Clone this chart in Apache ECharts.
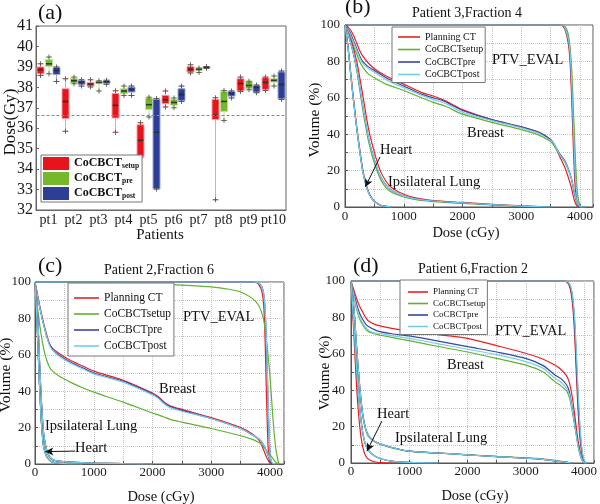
<!DOCTYPE html>
<html><head><meta charset="utf-8">
<script src="https://cdn.jsdelivr.net/npm/echarts@6/dist/echarts.min.js"></script>
<style>html,body{margin:0;padding:0;background:#fff}#c{width:600px;height:504px}</style>
</head><body><div id="c"></div>
<script>
// ---------- Panel (a): box plots (Gy) [min, Q1, median, Q3, max]
const patients = ['pt1','pt2','pt3','pt4','pt5','pt6','pt7','pt8','pt9','pt10'];
const boxSetup = [[38.58,38.66,38.86,39.0,39.15],[35.85,36.47,37.31,37.93,38.42],[38.02,38.06,38.16,38.24,38.37],[35.8,36.5,37.12,37.7,37.83],[34.56,34.6,35.41,36.17,36.27],[37.04,37.2,37.39,37.61,37.82],[38.7,38.75,38.88,39.02,39.1],[32.5,36.42,36.64,37.41,37.49],[37.8,37.82,38.18,38.42,38.5],[37.85,37.9,38.24,38.47,38.5]];
const boxPre = [[38.66,39.02,39.15,39.35,39.48],[38.18,38.21,38.32,38.45,38.5],[37.82,38.18,38.24,38.3,38.32],[37.6,37.69,37.82,37.93,38.06],[36.55,36.91,37.15,37.48,37.52],[37.0,37.12,37.26,37.41,37.48],[38.73,38.83,38.88,38.92,38.95],[36.38,36.82,37.31,37.8,37.85],[37.88,37.93,38.09,38.29,38.3],[38.06,38.26,38.34,38.42,38.55]];
const boxPost = [[38.29,38.63,38.83,38.97,39.0],[38.06,38.14,38.26,38.34,38.37],[38.15,38.2,38.27,38.32,38.35],[37.6,37.77,37.9,38.01,38.06],[33.03,33.03,35.81,37.41,37.45],[37.31,37.36,37.65,37.93,38.06],[38.93,38.94,38.97,39.0,39.02],[37.48,37.57,37.7,37.8,37.82],[37.74,37.77,38.01,38.09,38.12],[37.41,37.44,38.14,38.75,38.8]];
const refDoseGy = 36.65;

// ---------- Panel (b): Patient 3, Fraction 4  (dose cGy, volume %)
const b_ptv_dose = [0,3650,3700,3750,3800,3830,3860,3890,3920,3950,3980,4010,4050,4100];
const b_ptv_plan = [100,100,99.5,97,90,80,58,30,10,3,0.5,0,0,0];
const b_ptv_setup = [100,100,100,99,95,88,75,52,28,10,3,0.5,0,0];
const b_ptv_pre = [100,100,99.8,98,92,84,65,38,15,5,1,0,0,0];
const b_ptv_post = [100,100,99.8,98,92.5,85,67,41,17,6,1.2,0,0,0];
const b_breast_dose = [0,50,100,150,200,250,300,400,500,700,1000,1300,1500,1700,2000,2500,3000,3300,3500,3550,3650,3750,3850,3900,3950,4000,4050];
const b_breast_plan = [100,99,97,94,90,86,83,79,76,72,67.5,63,61,58.5,53.5,48,44,41,37,35,28,21,11,4,0.5,0,0];
const b_breast_setup = [100,97,93,88,84,80,77,73,71,67.5,64,60,57.5,55.5,51,46.5,42.5,39.5,36,34,29,24,16,9,3,0.5,0];
const b_breast_pre = [100,98,95,91,87,83,80,77,75,71,66.5,62,60,58,53,48,44,41,37,35,29.5,25,16,8,2,0,0];
const b_breast_post = [100,97.5,94,90,86,82,79,76,74,70,65.5,61.5,59,57,52,47.5,43.5,40.5,36.5,35,29,24.5,16,9,2.5,0.3,0];
const b_heart_dose = [0,50,100,150,200,250,300,350,400,450,500,600,700,800];
const b_heart_plan = [100,89,73,58,44,32,21,13.5,8.5,5.2,3.2,1.1,0.3,0];
const b_heart = [100,88,72,57,43,31,20,13,8,5,3,1,0.3,0];
const b_lung_dose = [0,100,200,300,400,500,600,700,800,1000,1200,1500,2000,2500,3000,3500];
const b_lung_plan = [100,92,80,62,43,30,20,14,10.5,7,5,3.5,2.5,1.5,0.6,0];
const b_lung_setup = [100,90,75,54,36,24,15.5,10.5,8,5.5,4,3,2,1.2,0.4,0];
const b_lung_pre = [100,90,76,56,38,26,17,12,9,6,4.5,3.3,2.3,1.3,0.5,0];
const b_lung_post = [100,90,76,56,38,26,17,12,9,6,4.5,3.3,2.3,1.3,0.5,0];

// ---------- Panel (c): Patient 2, Fraction 6
const c_ptv_dose = [0,3700,3780,3820,3860,3890,3910,3930,3950,3970,3990,4010,4030,4050];
const c_ptv_plan = [100,100,99.5,98,95,88,75,50,25,8,2,0,0,0];
const c_ptv_pre = [100,100,99.8,99,97.5,94,88,75,55,30,12,3,0.5,0];
const c_ptv_post = [100,100,99.8,99,97.5,94,88,76,57,32,13,3,0.5,0];
const c_ptv_setup_dose = [0,1000,1500,2000,2500,3000,3300,3500,3700,3800,3850,3900,3950,4000,4050,4100,4150];
const c_ptv_setup = [100,99.8,99.5,99,98.3,97.3,96,94.5,91,87.5,84,78,65,48,25,8,0];
const c_breast_dose = [0,50,100,150,200,250,300,400,600,800,1000,1500,2000,2100,2200,2300,2500,3000,3500,3700,3800,3850,3900,3950,4000,4050,4100,4150];
const c_breast_plan = [100,92,84,77,71,66,63.5,61,57,54,51,46,39,37,34,32,30,25.5,20,16.5,13.5,11,7,3,0.5,0,0,0];
const c_breast_setup = [100,84,72,63,57,53,51,48.5,45,42,39.5,34,28,27,25.8,24.5,23,19.5,15.5,13.5,12,11,9,7,5,3,1,0];
const c_breast_pre = [100,91,83,76,70,65.5,63,60,56,53,50,45.5,38.5,36.5,33.5,31.5,29.5,25,19.5,16,14,12.5,10,6,2,0,0,0];
const c_breast_post = [100,91,83,76,70,65,62.5,59.5,55.5,52.5,49.5,45,38,36,33,31,29,25,19.5,16,14,12.5,10,6,2.5,0.3,0,0];
const c_heart_dose = [0,25,50,75,100,125,150,200,250,300,400,600,800];
const c_heart = [100,85,65,45,28,16,9,4,2,1,0.5,0.1,0];
const c_lung_dose = [0,25,50,75,100,125,150,200,250,300,400,600,1000,1500,2000];
const c_lung = [100,92,78,58,40,26,16,7.5,4,2.5,1.6,1,0.5,0.2,0];
const c_lung_setup = [100,90,74,54,36,23,14,6.5,3.5,2.2,1.5,1,0.5,0.2,0];

// ---------- Panel (d): Patient 6, Fraction 2
const d_ptv_dose = [0,3650,3700,3740,3780,3810,3840,3870,3900,3930,3960,3990,4020,4050];
const d_ptv_plan = [100,100,99.5,98,93,85,70,48,28,14,6,1.5,0,0];
const d_ptv_setup = [100,100,99.8,99,96,90,78,58,36,19,8,2.5,0.3,0];
const d_ptv_pre = [100,100,99.8,98.5,95,88,75,54,33,17,7,2,0.2,0];
const d_ptv_post = [100,100,99.8,99,96,90,79,60,38,21,9,3,0.5,0];
const d_breast_dose = [0,50,100,150,200,250,300,400,500,700,1000,1500,2000,2500,3000,3300,3500,3600,3700,3750,3800,3850,3900,3950,4000,4050];
const d_breast_plan = [100,95,90,86,83,80,78,76.3,75.3,74,72.5,70.5,68.5,64.5,60.3,57,53.8,51.5,48,44,36,24,12,4,0.5,0];
const d_breast_setup = [100,91,84,79,76,73.5,72.2,71,70.3,69,67.2,64,61,57.5,53.8,50,44.7,42.5,39.5,36,28,19,9,3,0.3,0];
const d_breast_pre = [100,93,87,82,79,76.5,75,73.3,72.2,71,69.8,67,63.9,61,57.5,53.5,48.4,46.5,43,39,30,20,10,3,0.3,0];
const d_breast_post = [100,92,85,80,77,74.5,73,71.5,71.2,70,68.5,65.5,62.5,59.5,55.7,52,46.5,44.5,41,37.5,29,19,9,3,0.3,0];
const d_heart_dose = [0,50,100,150,200,250,300,400,500,700,1000,1500];
const d_heart_plan = [100,70,40,20,9,4,2,0.7,0.2,0,0,0];
const d_heart = [100,75,50,30,17,10,7,4,2.5,1,0.3,0];
const d_lung_dose = [0,50,100,150,200,250,300,400,500,700,1000,1500,2000,2500,3000,3300,3500,3700,3800];
const d_lung = [100,85,62,42,27,19,15,12,10.5,8.5,6.5,5.5,4.5,3.5,2.6,2,1.2,0.3,0];
const d_lung_setup = [100,84,60,40,26,18.5,14.5,11.8,10.3,8.3,6.4,5.4,4.5,3.6,2.8,2.2,1.5,0.5,0];

const legendNames = ['Planning CT','CoCBCTsetup','CoCBCTpre','CoCBCTpost'];

// ---------- styling
const FONT = 'Liberation Serif';
const LCOL = ['#ee1d23','#5fb22e','#3a44a0','#74cdea'];
const BOX = {setup:['#e8131b','#f4a0a4'], pre:['#76b82b','#bfe09a'], post:['#2d3e97','#9aa3d3']};

const chart = echarts.init(document.getElementById('c'), null, {renderer:'canvas'});

const aTop = 26, aH = 184, aL = 36, aW = 250;
const grids = [
  {left:aL, top:aTop, width:aW, height:aH, show:true, borderColor:'#666', borderWidth:1},
  {left:aL-8, top:aTop, width:aW, height:aH},
  {left:aL+0.5, top:aTop, width:aW, height:aH},
  {left:aL+8, top:aTop, width:aW, height:aH},
  {left:345, top:25, width:248, height:182, show:true, borderColor:'#555', borderWidth:1},
  {left:35, top:282, width:249, height:182, show:true, borderColor:'#555', borderWidth:1},
  {left:351, top:281, width:244, height:182, show:true, borderColor:'#555', borderWidth:1}
];
// serif tick labels through rich text
const rich = size => ({t:{fontFamily:FONT, fontSize:size, color:'#1a1a1a'}});
const axLab = (size, margin, fmt) => ({fontFamily:FONT, fontSize:size, color:'#1a1a1a', margin:margin,
  formatter:v => { const s = fmt ? fmt(v) : String(v); return s === '' ? '' : '{t|' + s + '}'; }, rich:rich(size)});
const xAxes = [
  {gridIndex:0, type:'category', data:patients, axisLine:{lineStyle:{color:'#666'}}, axisTick:{inside:true, length:3, lineStyle:{color:'#666'}},
    axisLabel:Object.assign(axLab(14,3), {interval:0})},
  {gridIndex:1, type:'category', data:patients, show:false},
  {gridIndex:2, type:'category', data:patients, show:false},
  {gridIndex:3, type:'category', data:patients, show:false}
];
const yAxes = [
  {gridIndex:0, type:'value', min:32, max:41, interval:1, axisLine:{show:true, lineStyle:{color:'#666'}}, axisTick:{show:true, inside:true, length:3, lineStyle:{color:'#666'}}, splitLine:{show:false}, axisLabel:axLab(16,3)},
  {gridIndex:1, type:'value', min:32, max:41, show:false, splitLine:{show:false}},
  {gridIndex:2, type:'value', min:32, max:41, show:false, splitLine:{show:false}},
  {gridIndex:3, type:'value', min:32, max:41, show:false, splitLine:{show:false}}
];
const split = {show:true, lineStyle:{color:'#c4c4c4', type:'dotted', width:1}};
function dvhAxes(g, xmax, ymargin, xmargin) {
  xAxes.push({gridIndex:g, type:'value', min:0, max:xmax, interval:500,
    axisLine:{lineStyle:{color:'#555'}}, axisTick:{inside:true, length:3, lineStyle:{color:'#555'}},
    splitLine:split, axisLabel:axLab(13, xmargin, v => v % 1000 === 0 ? String(v) : '')});
  yAxes.push({gridIndex:g, type:'value', min:0, max:100, interval:10,
    axisLine:{show:true, lineStyle:{color:'#555'}}, axisTick:{show:true, inside:true, length:3, lineStyle:{color:'#555'}},
    splitLine:split, axisLabel:axLab(13, ymargin, v => v % 20 === 0 ? String(v) : '')});
}
dvhAxes(4, 4221, 5, 3);
dvhAxes(5, 4238, 4, 2);
dvhAxes(6, 4171, 6, 2);

const series = [];
// ----- panel (a)
const crossPath = 'path://M4,0H6V4H10V6H6V10H4V6H0V4H4Z';
[['setup', boxSetup, 1], ['pre', boxPre, 2], ['post', boxPost, 3]].forEach(([key, data, g]) => {
  const bs = {type:'boxplot', name:key, xAxisIndex:g, yAxisIndex:g, data:data, boxWidth:[7,7],
    itemStyle:{color:BOX[key][0], borderColor:BOX[key][1], borderWidth:1}, silent:true, z:2};
  if (key === 'pre') {
    bs.markLine = {silent:true, symbol:'none', label:{show:false}, lineStyle:{color:'#888', type:[3,2], width:1.2},
      data:[{yAxis:refDoseGy}]};
  }
  series.push(bs);
  series.push({type:'scatter', name:'med_'+key, xAxisIndex:g, yAxisIndex:g, symbol:'rect', symbolSize:[6,1.6],
    itemStyle:{color:'#111'}, data:data.map((d,i)=>[i, d[2]]), silent:true, z:3});
  const caps = [];
  data.forEach((d,i)=>{ caps.push([i, d[0]]); caps.push([i, d[4]]); });
  series.push({type:'scatter', name:'cap_'+key, xAxisIndex:g, yAxisIndex:g, symbol:crossPath, symbolSize:5,
    itemStyle:{color:'#444'}, data:caps, silent:true, z:3});
});

// ----- DVH panels
function addLine(name, g, dose, vol, color, extra) {
  series.push(Object.assign({type:'line', name:name, xAxisIndex:g, yAxisIndex:g,
    data:dose.map((d,i)=>[d, vol[i]]), symbol:'none', showSymbol:false, smooth:0.25,
    lineStyle:{color:color, width:1.2}, itemStyle:{color:color}, silent:true, z:2}, extra || {}));
}
function addStructure(g, doses, vols, extraLast) {
  for (let k = 0; k < 4; k++) addLine(legendNames[k], g, doses[k], vols[k], LCOL[k], k === 3 ? extraLast : null);
}
function arrow(from, to) {
  return {markLine:{silent:true, symbol:['none','arrow'], symbolSize:[6,8], label:{show:false},
    lineStyle:{color:'#111', width:1, type:'solid'}, data:[[{coord:from},{coord:to}]]}};
}
addStructure(4, [b_ptv_dose,b_ptv_dose,b_ptv_dose,b_ptv_dose], [b_ptv_plan,b_ptv_setup,b_ptv_pre,b_ptv_post]);
addStructure(4, [b_breast_dose,b_breast_dose,b_breast_dose,b_breast_dose], [b_breast_plan,b_breast_setup,b_breast_pre,b_breast_post]);
addStructure(4, [b_lung_dose,b_lung_dose,b_lung_dose,b_lung_dose], [b_lung_plan,b_lung_setup,b_lung_pre,b_lung_post]);
addStructure(4, [b_heart_dose,b_heart_dose,b_heart_dose,b_heart_dose], [b_heart_plan,b_heart,b_heart,b_heart], arrow([596,27.5],[345,11]));
addStructure(5, [c_ptv_dose,c_ptv_setup_dose,c_ptv_dose,c_ptv_dose], [c_ptv_plan,c_ptv_setup,c_ptv_pre,c_ptv_post]);
addStructure(5, [c_breast_dose,c_breast_dose,c_breast_dose,c_breast_dose], [c_breast_plan,c_breast_setup,c_breast_pre,c_breast_post]);
addStructure(5, [c_lung_dose,c_lung_dose,c_lung_dose,c_lung_dose], [c_lung,c_lung_setup,c_lung,c_lung]);
addStructure(5, [c_heart_dose,c_heart_dose,c_heart_dose,c_heart_dose], [c_heart,c_heart,c_heart,c_heart], arrow([681,7.1],[175,6.8]));
addStructure(6, [d_ptv_dose,d_ptv_dose,d_ptv_dose,d_ptv_dose], [d_ptv_plan,d_ptv_setup,d_ptv_pre,d_ptv_post]);
addStructure(6, [d_breast_dose,d_breast_dose,d_breast_dose,d_breast_dose], [d_breast_plan,d_breast_setup,d_breast_pre,d_breast_post]);
addStructure(6, [d_lung_dose,d_lung_dose,d_lung_dose,d_lung_dose], [d_lung,d_lung_setup,d_lung,d_lung]);
addStructure(6, [d_heart_dose,d_heart_dose,d_heart_dose,d_heart_dose], [d_heart_plan,d_heart,d_heart,d_heart], arrow([530,23],[274,6.5]));

// ----- legends
const legendBase = {orient:'vertical', backgroundColor:'#fff', borderColor:'#777', borderWidth:1, borderRadius:0,
  selectedMode:false};
const lineLegendData = legendNames.map((n,k) => ({name:n, itemStyle:{color:LCOL[k], borderWidth:0}}));
const lineLegend = (left, top, pad, gap, iw, size) => Object.assign({}, legendBase, {data:lineLegendData, left:left, top:top,
  padding:pad, itemGap:gap, icon:'rect', itemWidth:iw, itemHeight:1.6,
  formatter:n => '{t|' + n + '}',
  textStyle:{fontFamily:FONT, fontSize:size, lineHeight:10, color:'#111', rich:{t:{fontFamily:FONT, fontSize:size, lineHeight:10, color:'#111'}}}});
const legends = [
  Object.assign({}, legendBase, {
    data:[{name:'setup', itemStyle:{color:BOX.setup[0], borderWidth:0}}, {name:'pre', itemStyle:{color:BOX.pre[0], borderWidth:0}}, {name:'post', itemStyle:{color:BOX.post[0], borderWidth:0}}],
    left:41, top:155, padding:[2,3,2,2], itemGap:2, itemWidth:26, itemHeight:13, icon:'rect',
    formatter:n => '{m|CoCBCT}{s|' + n + '}',
    textStyle:{rich:{m:{fontFamily:FONT, fontWeight:'bold', fontSize:12, lineHeight:13, verticalAlign:'top', color:'#111'},
                     s:{fontFamily:FONT, fontWeight:'bold', fontSize:7.5, lineHeight:8, padding:[5,0,0,0], verticalAlign:'top', color:'#111'}}}}),
  lineLegend(392, 27, [5,2,3,6], 2.5, 22, 10),
  lineLegend(68, 283, [9,3,4,6], 4, 25, 11.5),
  lineLegend(400, 280, [7,2,3,8], 1.5, 20, 9)
];

// ----- text annotations
function txt(s, x, y, size, align, rot, weight) {
  return {type:'text', x:x, y:y, rotation:rot || 0, silent:true, z:10,
    style:{text:s, font:(weight||'normal') + ' ' + size + 'px "Liberation Serif"', fill:'#111', textAlign:align || 'left', textVerticalAlign:'middle'}};
}
const R = Math.PI/2;
const graphics = [
  txt('(a)', 38, 13, 22), txt('Dose(Gy)', 11, 122, 17, 'center', R), txt('Patients', 160, 235, 15, 'center'),
  txt('(b)', 345, 7, 22), txt('Patient 3,Fraction 4', 467, 13, 14, 'center'),
  txt('Volume (%)', 315, 120, 15.5, 'center', R), txt('Dose (cGy)', 466, 233, 14.5, 'center'),
  txt('PTV_EVAL', 492, 60, 14.5), txt('Breast', 467, 133, 14.5), txt('Heart', 380, 150, 14.5), txt('Ipsilateral Lung', 388, 182, 14.5),
  txt('(c)', 38, 266, 22), txt('Patient 2,Fraction 6', 159, 270, 14, 'center'),
  txt('Volume (%)', 6, 375, 15.5, 'center', R), txt('Dose (cGy)', 161, 497, 14.5, 'center'),
  txt('PTV_EVAL', 183, 317, 14.5), txt('Breast', 159, 389, 14.5), txt('Ipsilateral Lung', 45, 426, 14.5), txt('Heart', 75, 448, 14.5),
  txt('(d)', 353, 266, 22), txt('Patient 6,Fraction 2', 473, 269, 14, 'center'),
  txt('Volume (%)', 325, 373, 15.5, 'center', R), txt('Dose (cGy)', 475, 496, 14.5, 'center'),
  txt('PTV_EVAL', 495, 331, 14.5), txt('Breast', 447, 365, 14.5), txt('Heart', 377, 414, 14.5), txt('Ipsilateral Lung', 395, 438, 14.5)
];

chart.setOption({
  animation:false,
  backgroundColor:'#fff',
  textStyle:{fontFamily:FONT},
  grid:grids, xAxis:xAxes, yAxis:yAxes, series:series, legend:legends, graphic:graphics
});
</script></body></html>
